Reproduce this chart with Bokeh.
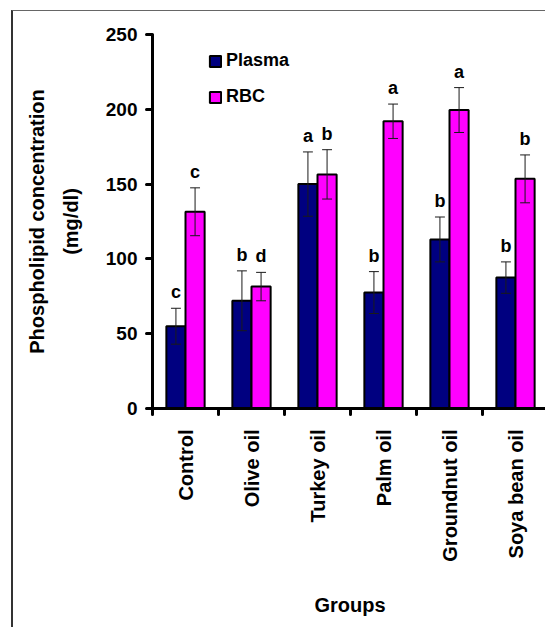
import math
from bokeh.plotting import figure
from bokeh.models import Range1d, FixedTicker, Legend, LegendItem
from bokeh.core.properties import value
from bokeh.embed import file_html
from bokeh.resources import INLINE

groups = ["Control", "Olive oil", "Turkey oil", "Palm oil", "Groundnut oil", "Soya bean oil"]
plasma = [55, 72, 150, 77.5, 113, 87.5]
plasma_err = [12, 20, 21.5, 14, 15, 10.5]
rbc = [131.5, 81.5, 156.5, 192, 199.5, 153.5]
rbc_err = [16, 9.5, 16.5, 11.5, 15, 16]
plasma_letters = ["c", "b", "a", "b", "b", "b"]
rbc_letters = ["c", "d", "b", "a", "a", "b"]
yticks = [0, 50, 100, 150, 200, 250]

FONT = "Liberation Sans"
NAVY = "#000080"
MAGENTA = "#FF00FF"

W, H = 534, 617
LEFT, TOP, BOTTOM = 139, 23, 220
frame_w = W - LEFT

p = figure(width=W, height=H, output_backend="svg", toolbar_location=None,
           x_range=Range1d(0, frame_w / 66), y_range=Range1d(0, 250),
           min_border_left=LEFT, min_border_right=0, min_border_top=TOP, min_border_bottom=BOTTOM)
p.styles = {"border-left": "2px solid #333333", "border-top": "1px solid #666666",
            "margin-left": "11px", "margin-top": "10px"}

idx = list(range(len(groups)))
off = 0.145
bw = 0.29
xp = [i + 0.5 - off for i in idx]
xr = [i + 0.5 + off for i in idx]

rp = p.vbar(x=xp, top=plasma, width=bw, bottom=0, fill_color=NAVY, line_color="black", line_width=2)
rr = p.vbar(x=xr, top=rbc, width=bw, bottom=0, fill_color=MAGENTA, line_color="black", line_width=2)

cap = 0.075
for xs, vals, errs in ((xp, plasma, plasma_err), (xr, rbc, rbc_err)):
    lo = [v - e for v, e in zip(vals, errs)]
    hi = [v + e for v, e in zip(vals, errs)]
    p.segment(x0=xs, y0=lo, x1=xs, y1=hi, line_color="#1a1a1a", line_width=1)
    p.segment(x0=[x - cap for x in xs], y0=hi, x1=[x + cap for x in xs], y1=hi, line_color="#1a1a1a", line_width=1)
    p.segment(x0=[x - cap for x in xs], y0=lo, x1=[x + cap for x in xs], y1=lo, line_color="#1a1a1a", line_width=1)

for xs, vals, errs, lets in ((xp, plasma, plasma_err, plasma_letters), (xr, rbc, rbc_err, rbc_letters)):
    p.text(x=xs, y=[v + e for v, e in zip(vals, errs)], text=lets, text_align="center",
           text_baseline="alphabetic", y_offset=-16, text_font=value(FONT),
           text_font_style="bold", text_font_size="18px", text_color="black")

legend = Legend(items=[LegendItem(label="Plasma", renderers=[rp]), LegendItem(label="RBC", renderers=[rr])],
                location=(56, 301), glyph_width=14, glyph_height=14, label_standoff=4, spacing=15,
                padding=0, margin=0, border_line_color=None, background_fill_alpha=0,
                label_text_font=FONT, label_text_font_style="bold", label_text_font_size="18px",
                label_text_color="black", label_height=20)
p.add_layout(legend)

# x axis
xa = p.xaxis[0]
xa.ticker = FixedTicker(ticks=[i + 0.5 for i in idx], minor_ticks=list(range(len(groups) + 1)))
xa.major_label_overrides = {i + 0.5: g for i, g in zip(idx, groups)}
xa.major_label_orientation = math.pi / 2
xa.major_tick_out = 0
xa.major_tick_in = 0
xa.minor_tick_out = 6
xa.minor_tick_in = 0
xa.minor_tick_line_width = 3
xa.minor_tick_line_color = "black"
xa.minor_tick_line_cap = "round"
xa.axis_line_width = 3
xa.axis_line_color = "black"
xa.major_label_standoff = 15
xa.major_label_text_font = FONT
xa.major_label_text_font_style = "bold"
xa.major_label_text_font_size = "20px"
xa.major_label_text_color = "black"
xa.axis_label = "Groups"
xa.axis_label_standoff = 29
xa.axis_label_text_font = FONT
xa.axis_label_text_font_style = "bold"
xa.axis_label_text_font_size = "20px"
xa.axis_label_text_color = "black"

# y axis
ya = p.yaxis[0]
ya.ticker = FixedTicker(ticks=yticks)
ya.major_tick_out = 6
ya.major_tick_in = 0
ya.major_tick_line_width = 3
ya.major_tick_line_color = "black"
ya.major_tick_line_cap = "round"
ya.minor_tick_out = 0
ya.minor_tick_in = 0
ya.axis_line_width = 3
ya.axis_line_color = "black"
ya.major_label_standoff = 9
ya.major_label_text_font = FONT
ya.major_label_text_font_style = "bold"
ya.major_label_text_font_size = "19px"
ya.major_label_text_color = "black"
ya.axis_label = "Phospholipid concentration\n(mg/dl)"
ya.axis_label_standoff = 21
ya.axis_label_text_font = FONT
ya.axis_label_text_font_style = "bold"
ya.axis_label_text_font_size = "20px"
ya.axis_label_text_color = "black"
ya.axis_label_text_line_height = 1.55

p.xgrid.visible = False
p.ygrid.visible = False
p.outline_line_color = None

open("out.html", "w").write(file_html(p, INLINE))
